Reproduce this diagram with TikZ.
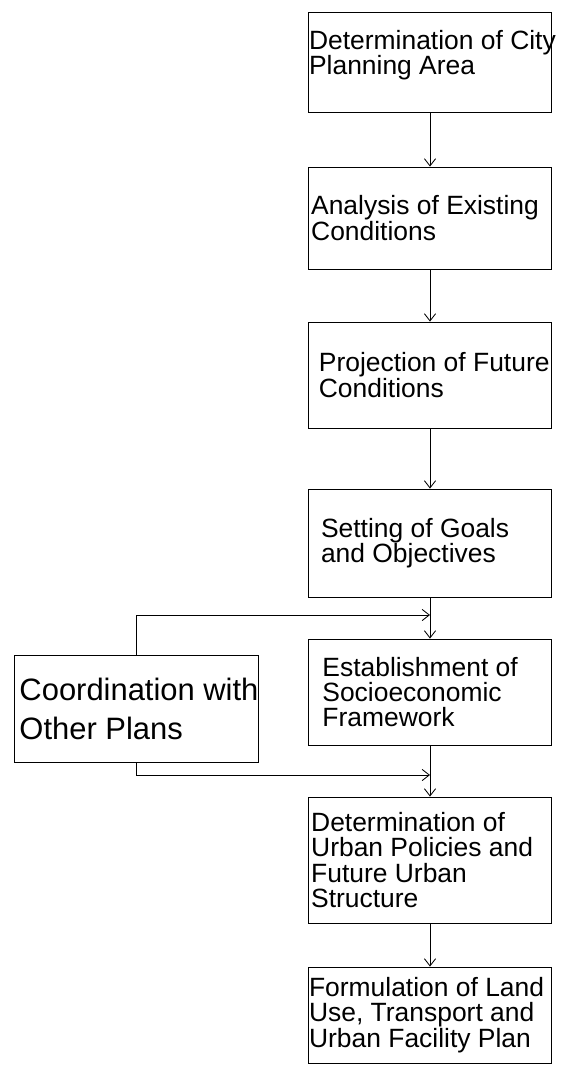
\documentclass[tikz,border=0pt]{standalone}
\usepackage{fontspec}
\setmainfont{Liberation Sans}
\usetikzlibrary{arrows.meta,positioning}

\begin{document}
\begin{tikzpicture}[
    >={Straight Barb[length=1.8mm,width=2.8mm]},
    stage/.style={rectangle, draw, line width=0.6pt, minimum width=6.075cm, inner sep=0pt},
    txt/.style={inner sep=0pt, align=left, font=\fontsize{18.8}{18}\selectfont},
    bigtxt/.style={inner sep=0pt, align=left, font=\fontsize{22}{27.7}\selectfont},
    link/.style={->, line width=0.6pt},
]
\useasboundingbox (0,0) rectangle (14.025,-26.675);

\node[stage, minimum height=2.5cm] (s1) at (10.75,-1.55) {};
\node[txt, right=0.5pt of s1.west, yshift=5pt] {Determination of City\\Planning Area};

\node[stage, minimum height=2.55cm] (s2) at (10.75,-5.45) {};
\node[txt, right=2pt of s2.west] {Analysis of Existing\\Conditions};

\node[stage, minimum height=2.65cm] (s3) at (10.75,-9.375) {};
\node[txt, right=7.5pt of s3.west] {Projection of Future\\Conditions};

\node[stage, minimum height=2.7cm] (s4) at (10.75,-13.575) {};
\node[txt, right=9pt of s4.west] {Setting of Goals\\and Objectives};

\node[stage, minimum height=2.65cm] (s5) at (10.75,-17.3) {};
\node[txt, right=10pt of s5.west] {Establishment of\\Socioeconomic\\Framework};

\node[stage, minimum height=3.15cm] (s6) at (10.75,-21.5) {};
\node[txt, right=2pt of s6.west] {Determination of\\Urban Policies and\\Future Urban\\Structure};

\node[stage, minimum height=2.4cm] (s7) at (10.75,-25.375) {};
\node[txt, right=0.5pt of s7.west] {Formulation of Land\\Use, Transport and\\Urban Facility Plan};

% side box
\node[stage, minimum width=6.1cm, minimum height=2.675cm] (co) at (3.4,-17.7125) {};
\node[bigtxt, right=4pt of co.west] {Coordination with\\Other Plans};

\coordinate (j1) at (10.75,-15.375);
\coordinate (j2) at (10.75,-19.375);

\draw[link] (s1.south) -- (s2.north);
\draw[link] (s2.south) -- (s3.north);
\draw[link] (s3.south) -- (s4.north);
\draw[link] (s4.south) -- (s5.north);
\draw[link] (s5.south) -- (s6.north);
\draw[link] (s6.south) -- (s7.north);
\draw[link] (co.north) |- (j1);
\draw[link] (co.south) |- (j2);

\end{tikzpicture}
\end{document}
